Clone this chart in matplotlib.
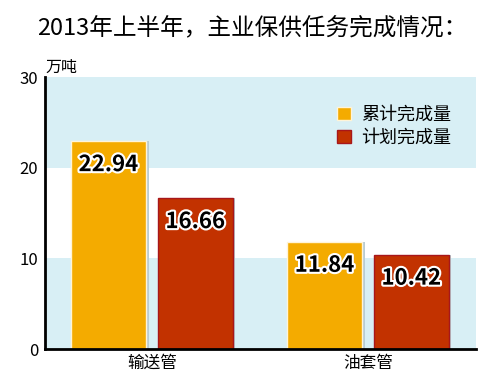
import numpy as np
import matplotlib.pyplot as plt
import matplotlib.patheffects as pe

plt.rcParams['font.family'] = ['Noto Sans CJK SC', 'DejaVu Sans']

# data
categories = ['输送管', '油套管']
series_names = ['累计完成量', '计划完成量']
cumulative = [22.94, 11.84]
planned = [16.66, 10.42]
colors = ['#F4AB00', '#C23200']
edge_colors = ['#FFF4D8', '#A8161A']

fig = plt.figure(figsize=(5, 3.84), dpi=100)
ax = fig.add_axes([0.09, 0.0911, 0.862, 0.7083])

# background bands
ax.axhspan(0, 10, color='#D8EFF5', zorder=0, lw=0)
ax.axhspan(20, 30, color='#D8EFF5', zorder=0, lw=0)

x = np.arange(len(categories))
width = 0.347
offset = 0.201
for vals, name, c, ec, sign in zip([cumulative, planned], series_names,
                                   colors, edge_colors, [-1, 1]):
    # soft shadow on the right of each bar
    ax.bar(x + sign * offset + 0.012, vals, width, color='#B8CCD4',
           linewidth=0, zorder=1)
    bars = ax.bar(x + sign * offset, vals, width, color=c, edgecolor=ec,
                  linewidth=1, label=name, zorder=2)
    for b, v in zip(bars, vals):
        ax.annotate(f'{v:.2f}', (b.get_x() + b.get_width() / 2, v),
                    xytext=(0, -17), textcoords='offset points',
                    ha='center', va='center', fontsize=16, fontweight='bold',
                    color='black', zorder=3,
                    path_effects=[pe.withStroke(linewidth=3, foreground='white')])

ax.set_xlim(-0.495, 1.5)
ax.set_ylim(0, 30)
ax.set_yticks([0, 10, 20, 30])
ax.set_xticks(x)
ax.set_xticklabels(categories, fontsize=12)
ax.tick_params(axis='both', length=0, labelsize=12, pad=4)
ax.tick_params(axis='y', pad=5)
for s in ['top', 'right']:
    ax.spines[s].set_visible(False)
for s in ['left', 'bottom']:
    ax.spines[s].set_linewidth(2)

ax.legend(loc='upper left', bbox_to_anchor=(0.64, 0.955), frameon=False,
          fontsize=13, handlelength=0.75, handleheight=0.75, handletextpad=0.6,
          labelspacing=0.3)

ax.text(0, 1.005, '万吨', transform=ax.transAxes, fontsize=11.5, va='bottom')
fig.text(0.505, 0.925, '2013年上半年，主业保供任务完成情况：', ha='center',
         va='center', fontsize=17)

plt.savefig('out.png', dpi=100)
